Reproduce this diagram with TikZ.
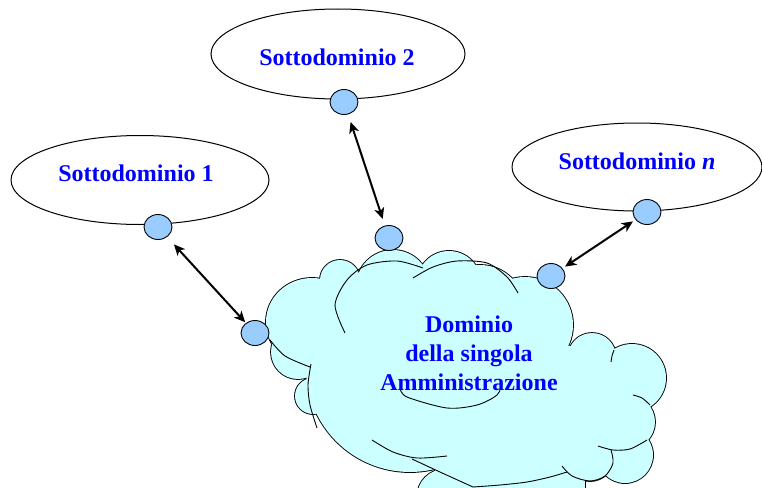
\documentclass[tikz,border=0pt]{standalone}
\usepackage{fontspec}
\setmainfont{Liberation Serif}
\usetikzlibrary{arrows.meta,shapes.geometric}
\definecolor{cloudfill}{HTML}{CCFFFF}
\definecolor{portfill}{HTML}{99CCFF}
\definecolor{txtblue}{HTML}{0000FF}
\tikzset{
  sub/.style={draw=black, line width=1pt, fill=white, ellipse, inner sep=0pt},
  port/.style={draw=black, line width=0.9pt, fill=portfill, ellipse, minimum width=28pt, minimum height=25pt, inner sep=0pt},
  lbl/.style={text=txtblue, font=\bfseries\fontsize{24}{29}\selectfont, inner sep=0pt},
  conn/.style={line width=2pt, {Stealth[length=11pt,width=10pt,inset=3pt]}-{Stealth[length=11pt,width=10pt,inset=3pt]}},
  inner/.style={line width=0.9pt},
}
\newcommand\cloudpass[1]{%
  \path[#1] (312,322) ellipse [x radius=46pt, y radius=44pt];
  \path[#1] (298,352) circle [radius=27pt];
  \path[#1] (313,396) circle [radius=18pt];
  \path[#1] (340,280) circle [radius=20pt];
  \path[#1] (393,287) circle [radius=37pt];
  \path[#1] (449,283) circle [radius=32pt];
  \path[#1] (480,310) circle [radius=45pt];
  \path[#1] (525,325) circle [radius=48pt];
  \path[#1] (592,357) circle [radius=24pt];
  \path[#1] (632,378) circle [radius=34pt];
  \path[#1] (628,422) circle [radius=27pt];
  \path[#1] (625,455) circle [radius=28pt];
  \path[#1] (590,457) circle [radius=24pt];
  \path[#1] (410,368) circle [radius=104pt];
  \path[#1] (445,497) circle [radius=28pt];
  \path[#1] (450,380) ellipse [x radius=100pt, y radius=90pt];
  \path[#1] (560,400) ellipse [x radius=60pt, y radius=55pt];
  \path[#1] (520,440) ellipse [x radius=70pt, y radius=45pt];
  \path[#1] (435,455) rectangle (585,495);
}
\begin{document}
\begin{tikzpicture}[x=1pt,y=-1pt]
\useasboundingbox (0,0) rectangle (762,487);
\clip (0,0) rectangle (762,487);
% sub-domains
\node[sub, minimum width=258pt, minimum height=89pt] (s1) at (140,180) {};
\node[sub, minimum width=254pt, minimum height=90pt] (s2) at (338,54) {};
\node[sub, minimum width=250pt, minimum height=88pt] (sn) at (637,167) {};
\node[lbl, anchor=base] (t1) at (136,181) {Sottodominio 1};
\node[lbl, anchor=base] (t2) at (337,65) {Sottodominio 2};
\node[lbl, anchor=base] (tn) at (637,169) {Sottodominio \textit{n}};
% cloud
\cloudpass{draw=black, line width=1.8pt, fill=cloudfill}
\cloudpass{fill=cloudfill}
\draw[inner] plot[smooth] coordinates {(345,333) (335,305) (347,280) (367,265) (397,261) (423,268)};
\draw[inner] plot[smooth] coordinates {(413,278) (433,267) (457,261) (487,263) (507,277) (518,293)};
\draw[inner] plot[smooth] coordinates {(400,388) (407,397) (447,408) (477,405) (497,395) (502,383)};
\draw[inner] plot[smooth] coordinates {(372,440) (393,452) (417,458) (447,456)};
\draw[inner] plot[smooth] coordinates {(270,340) (285,356) (310,367)};
\draw[inner] plot[smooth] coordinates {(311,364) (308,385) (310,405) (317,428)};
\draw[inner] plot[smooth] coordinates {(412,459) (440,472) (473,487)};
\draw[inner] plot[smooth] coordinates {(473,487) (500,485) (527,482) (550,477) (567,472)};
\draw[inner] plot[smooth] coordinates {(562,466) (572,476) (590,481) (605,476) (613,463) (611,450)};
\draw[inner] plot[smooth] coordinates {(598,446) (613,450) (630,449) (647,440)};
\draw[inner] plot[smooth] coordinates {(633,395) (642,398) (650,405)};
\draw[inner] plot[smooth] coordinates {(611,362) (612,356) (614,350)};
\node[lbl, align=center] (dom) at (469,353) {Dominio\\della singola\\Amministrazione};
% ports
\node[port] (c1) at (158,227) {};
\node[port] (c2) at (344,102) {};
\node[port] (cn) at (647,212) {};
\node[port] (ct) at (389,238) {};
\node[port] (cr) at (551,276) {};
\node[port] (cl) at (255,333) {};
% connectors
\draw[conn, shorten <=10pt, shorten >=1pt] (c1) -- (cl);
\draw[conn, shorten <=8pt, shorten >=7pt] (c2) -- (ct);
\draw[conn, shorten <=3pt, shorten >=3pt] (cn) -- (cr);
\end{tikzpicture}
\end{document}
